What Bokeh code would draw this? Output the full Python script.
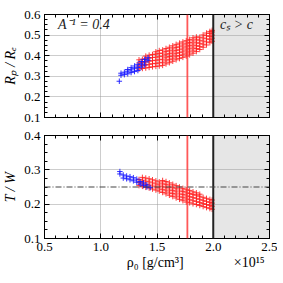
from bokeh.plotting import figure
from bokeh.layouts import column
from bokeh.models import (FixedTicker, LinearAxis, Span, BoxAnnotation, Label,
                          PrintfTickFormatter, Range1d)
from bokeh.embed import file_html
from bokeh.resources import INLINE

# ---------------- data (rho0 in units of 1e15 g/cm^3) ----------------
x_ticks = [0.5, 1.0, 1.5, 2.0, 2.5]
x_minor = [0.5 + 0.1 * i for i in range(21)]
rp_ticks = [0.1, 0.2, 0.3, 0.4, 0.5, 0.6]
tw_ticks = [0.1, 0.2, 0.3, 0.4]

x_label = "ρ₀  [g/cm³]"
x_label_pos = 1.5
x_scale_text = "×10¹⁵"
x_scale_pos = 2.32

rho_limit = 2.0        # c_s > c beyond this
rho_red_line = 1.77
tw_ref = 0.25

# R_p/R_e : red cloud (columns of rho and values in each column)
red_rp_rho = [1.34, 1.37, 1.40, 1.43, 1.46, 1.49, 1.52, 1.55, 1.58, 1.61, 1.64, 1.67,
              1.70, 1.73, 1.76, 1.79, 1.82, 1.85, 1.88, 1.91, 1.94, 1.97, 1.99]
red_rp_val = [
    [0.335, 0.350, 0.365, 0.380],
    [0.338, 0.353, 0.368, 0.383],
    [0.340, 0.355, 0.370, 0.385, 0.398],
    [0.343, 0.358, 0.373, 0.388, 0.403],
    [0.346, 0.361, 0.376, 0.391, 0.406],
    [0.348, 0.363, 0.378, 0.393, 0.408, 0.419],
    [0.350, 0.365, 0.380, 0.395, 0.410, 0.425],
    [0.353, 0.368, 0.383, 0.398, 0.413, 0.428],
    [0.360, 0.375, 0.390, 0.405, 0.420, 0.435],
    [0.366, 0.381, 0.396, 0.411, 0.426, 0.441],
    [0.373, 0.388, 0.403, 0.418, 0.433, 0.448],
    [0.380, 0.395, 0.410, 0.425, 0.440, 0.455],
    [0.386, 0.401, 0.416, 0.431, 0.446, 0.461],
    [0.392, 0.407, 0.422, 0.437, 0.452, 0.467],
    [0.398, 0.413, 0.428, 0.443, 0.458, 0.473],
    [0.404, 0.419, 0.434, 0.449, 0.464, 0.479],
    [0.412, 0.427, 0.442, 0.457, 0.472, 0.487],
    [0.420, 0.435, 0.450, 0.465, 0.480, 0.491],
    [0.430, 0.445, 0.460, 0.475, 0.490],
    [0.441, 0.456, 0.471, 0.486, 0.501],
    [0.452, 0.467, 0.482, 0.497, 0.510],
    [0.463, 0.478, 0.493, 0.508, 0.518],
    [0.470, 0.485, 0.500, 0.515, 0.523],
]

# R_p/R_e : blue cloud
blue_rp_rho = [1.165, 1.18, 1.21, 1.24, 1.27, 1.30, 1.33, 1.36, 1.39, 1.42]
blue_rp_val = [
    [0.276],
    [0.305, 0.315],
    [0.308, 0.320],
    [0.312, 0.325, 0.333],
    [0.318, 0.331, 0.342],
    [0.323, 0.337, 0.350],
    [0.328, 0.343, 0.358],
    [0.345, 0.360, 0.372],
    [0.355, 0.370, 0.382],
    [0.378, 0.390],
]

# T/W : red cloud
red_tw_rho = red_rp_rho
red_tw_val = [
    [0.254, 0.263, 0.272],
    [0.252, 0.261, 0.270, 0.278],
    [0.249, 0.258, 0.267, 0.276],
    [0.247, 0.256, 0.265, 0.274],
    [0.244, 0.253, 0.262, 0.271],
    [0.241, 0.250, 0.259, 0.268],
    [0.238, 0.247, 0.256, 0.265],
    [0.234, 0.243, 0.252, 0.261, 0.269],
    [0.230, 0.239, 0.248, 0.257, 0.266],
    [0.226, 0.235, 0.244, 0.253, 0.262],
    [0.222, 0.231, 0.240, 0.249, 0.258],
    [0.218, 0.227, 0.236, 0.245, 0.254],
    [0.214, 0.223, 0.232, 0.241, 0.250],
    [0.210, 0.219, 0.228, 0.237, 0.246],
    [0.206, 0.215, 0.224, 0.233, 0.242],
    [0.204, 0.213, 0.222, 0.231, 0.240],
    [0.201, 0.210, 0.219, 0.228, 0.236],
    [0.199, 0.208, 0.217, 0.226, 0.233],
    [0.196, 0.205, 0.214, 0.223, 0.229],
    [0.193, 0.202, 0.211, 0.220],
    [0.190, 0.199, 0.208, 0.217],
    [0.187, 0.196, 0.205, 0.214],
    [0.185, 0.194, 0.203, 0.212],
]

# T/W : blue cloud
blue_tw_rho = [1.17, 1.20, 1.23, 1.26, 1.29, 1.32, 1.35, 1.38, 1.41, 1.44]
blue_tw_val = [
    [0.288, 0.295],
    [0.276, 0.285],
    [0.274, 0.282],
    [0.271, 0.280],
    [0.268, 0.277],
    [0.264, 0.273],
    [0.258, 0.266],
    [0.254, 0.262],
    [0.250, 0.256],
    [0.248],
]


def flatten(cols, vals):
    xs, ys = [], []
    for c, vs in zip(cols, vals):
        for v in vs:
            xs.append(c)
            ys.append(v)
    return xs, ys


FONT = "Liberation Serif"
RED = "#ff1a1a"
BLUE = "#1a1aff"


def hide_labels(ax, ticks):
    ax.major_label_overrides = {t: "" for t in ticks}
    ax.major_label_standoff = 0
    ax.major_label_text_font_size = "1px"


def make_fig(yticks, yrange, ylabel, show_xlabels, border_top, border_bottom):
    p = figure(frame_width=225, frame_height=103, output_backend="svg",
               toolbar_location=None, x_range=Range1d(0.5, 2.5),
               y_range=Range1d(*yrange), min_border_left=35, min_border_right=8,
               min_border_top=border_top, min_border_bottom=border_bottom)
    p.background_fill_color = "white"
    p.outline_line_color = "black"
    p.outline_line_width = 1
    ym = [round(yrange[0] + 0.025 * i, 3) for i in range(int(round((yrange[1] - yrange[0]) / 0.025)) + 1)]
    p.xaxis.ticker = FixedTicker(ticks=x_ticks, minor_ticks=x_minor)
    p.yaxis.ticker = FixedTicker(ticks=yticks, minor_ticks=ym)
    for ax in (p.xaxis[0], p.yaxis[0]):
        ax.major_tick_in = 5
        ax.major_tick_out = 0
        ax.minor_tick_in = 3
        ax.minor_tick_out = 0
        ax.axis_line_color = "black"
        ax.major_tick_line_color = "black"
        ax.minor_tick_line_color = "black"
        ax.major_label_text_font = FONT
        ax.major_label_text_font_size = "13px"
        ax.major_label_text_color = "black"
        ax.axis_label_text_font = FONT
        ax.axis_label_text_font_size = "14px"
        ax.axis_label_text_font_style = "normal"
        ax.axis_label_text_color = "black"
        ax.formatter = PrintfTickFormatter(format="%.1f")
    p.yaxis.axis_label = ylabel
    p.yaxis.axis_label_text_font_style = "italic"
    p.yaxis.major_label_standoff = 4
    p.yaxis.axis_label_standoff = 3
    if not show_xlabels:
        hide_labels(p.xaxis[0], x_ticks)
    else:
        p.xaxis.major_label_standoff = 4
        # second row below the tick labels: axis label and the scale factor
        lab = LinearAxis(ticker=FixedTicker(ticks=[x_label_pos, x_scale_pos], minor_ticks=[]),
                         major_label_overrides={x_label_pos: x_label, x_scale_pos: x_scale_text})
        lab.axis_line_color = None
        lab.major_tick_line_color = None
        lab.minor_tick_line_color = None
        lab.major_tick_in = 0
        lab.major_tick_out = 0
        lab.major_label_standoff = 1
        lab.major_label_text_font = FONT
        lab.major_label_text_font_size = "14px"
        lab.major_label_text_color = "black"
        p.add_layout(lab, "below")
    # mirrored axes
    top = LinearAxis(ticker=FixedTicker(ticks=x_ticks, minor_ticks=x_minor))
    right = LinearAxis(ticker=FixedTicker(ticks=yticks, minor_ticks=ym))
    hide_labels(top, x_ticks)
    hide_labels(right, yticks)
    for ax in (top, right):
        ax.major_tick_in = 5
        ax.major_tick_out = 0
        ax.minor_tick_in = 3
        ax.minor_tick_out = 0
        ax.axis_line_color = "black"
    p.add_layout(top, "above")
    p.add_layout(right, "right")
    # grid
    p.xgrid.ticker = FixedTicker(ticks=x_ticks)
    p.ygrid.ticker = FixedTicker(ticks=yticks)
    for g in (p.xgrid[0], p.ygrid[0]):
        g.grid_line_color = "#9a9a9a"
        g.grid_line_dash = "1 1"
        g.grid_line_width = 1
    # shaded region
    p.add_layout(BoxAnnotation(left=rho_limit, fill_color="#e6e6e6", fill_alpha=1.0,
                               line_color=None, level="image"))
    return p


p1 = make_fig(rp_ticks, (0.1, 0.6), "Rₚ / Rₑ", False, 14, 10)
p2 = make_fig(tw_ticks, (0.1, 0.4), "T / W", True, 8, 30)

for p, (rr, rv), (br, bv) in ((p1, (red_rp_rho, red_rp_val), (blue_rp_rho, blue_rp_val)),
                              (p2, (red_tw_rho, red_tw_val), (blue_tw_rho, blue_tw_val))):
    rx, ry = flatten(rr, rv)
    bx, by = flatten(br, bv)
    p.scatter(rx, ry, marker="cross", size=5.5, line_color=RED, line_width=1, line_alpha=0.85)
    p.scatter(bx, by, marker="cross", size=5.5, line_color=BLUE, line_width=1, line_alpha=0.9)
    p.add_layout(Span(location=rho_red_line, dimension="height", line_color="#ff3b3b",
                      line_width=1.8, line_alpha=0.85))
    p.add_layout(Span(location=rho_limit, dimension="height", line_color="#222222",
                      line_width=2))

p2.add_layout(Span(location=tw_ref, dimension="width", line_color="#444444",
                   line_width=1.2, line_dash="6 2 1 2"))

p1.add_layout(Label(x=0.62, y=0.588, text="A⁻¹ = 0.4", text_font=FONT,
                    text_font_size="14px", text_baseline="top", text_color="#222222",
                    text_font_style="italic"))
p1.add_layout(Label(x=2.06, y=0.588, text="cₛ > c", text_font=FONT,
                    text_font_size="14px", text_baseline="top", text_color="#222222",
                    text_font_style="italic"))

layout = column(p1, p2, spacing=0)
open("out.html", "w").write(file_html(layout, INLINE))
